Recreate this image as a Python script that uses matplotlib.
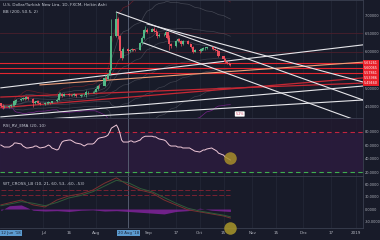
import numpy as np
import pandas as pd
import matplotlib
matplotlib.use("Agg")
import matplotlib.pyplot as plt
import matplotlib.transforms as mtransforms


# ---- data ----
START = pd.Timestamp("2018-06-06")
trade_dates = pd.bdate_range("2018-06-06", "2018-10-19")

first_open = 4.60
closes = [
    4.53, 4.50, 4.51,
    4.53, 4.55, 4.55, 4.65, 4.68,
    4.72, 4.75, 4.73, 4.76, 4.72,
    4.60, 4.64, 4.66, 4.62, 4.57,
    4.60, 4.62, 4.62, 4.61, 4.65,
    4.70, 4.85, 4.86, 4.81, 4.86,
    4.83, 4.82, 4.83, 4.84, 4.79,
    4.82, 4.83, 4.83, 4.90, 4.90,
    4.91, 4.92, 4.99, 5.07, 5.06,
    5.30, 5.27, 5.41, 5.50, 6.43,
    6.88, 6.44, 6.03, 5.84, 6.08,
    6.03, 6.05, 6.07, 6.06, 6.05,
    6.25, 6.38, 6.59, 6.60, 6.55,
    6.62, 6.58, 6.55, 6.42, 6.46,
    6.47, 6.53, 6.37, 6.22, 6.15,
    6.29, 6.36, 6.30, 6.20, 6.30,
    6.22, 6.20, 6.14, 6.00, 6.05,
    6.02, 6.09, 6.10, 6.10, 6.12,
    6.14, 6.08, 6.05, 6.02, 5.88,
    5.80, 5.73, 5.70, 5.66, 5.65,
]
highs = [
    4.62, 4.58, 4.56,
    4.56, 4.57, 4.58, 4.68, 4.72,
    4.74, 4.78, 4.77, 4.79, 4.78,
    4.74, 4.66, 4.69, 4.68, 4.63,
    4.64, 4.64, 4.65, 4.64, 4.67,
    4.75, 4.90, 4.92, 4.88, 4.89,
    4.88, 4.86, 4.86, 4.87, 4.85,
    4.84, 4.86, 4.85, 4.95, 4.93,
    4.94, 4.95, 5.03, 5.10, 5.12,
    5.38, 5.34, 5.43, 5.55, 6.88,
    7.08, 6.96, 6.47, 6.06, 6.12,
    6.10, 6.09, 6.10, 6.09, 6.08,
    6.28, 6.42, 6.62, 6.70, 6.64,
    6.65, 6.68, 6.62, 6.58, 6.50,
    6.51, 6.57, 6.55, 6.45, 6.24,
    6.32, 6.38, 6.38, 6.31, 6.32,
    6.32, 6.25, 6.21, 6.15, 6.09,
    6.07, 6.11, 6.12, 6.14, 6.14,
    6.17, 6.16, 6.10, 6.08, 6.04,
    5.90, 5.82, 5.76, 5.72, 5.70,
]
lows = [
    4.50, 4.44, 4.47,
    4.48, 4.51, 4.52, 4.53, 4.62,
    4.66, 4.70, 4.70, 4.71, 4.70,
    4.51, 4.58, 4.61, 4.59, 4.55,
    4.56, 4.58, 4.59, 4.58, 4.60,
    4.63, 4.68, 4.80, 4.78, 4.80,
    4.80, 4.79, 4.80, 4.81, 4.77,
    4.78, 4.80, 4.80, 4.78, 4.86,
    4.88, 4.89, 4.90, 4.97, 5.01,
    5.06, 5.22, 5.26, 5.38, 5.50,
    6.40, 6.35, 5.98, 5.78, 5.82,
    5.98, 6.00, 6.02, 6.02, 6.01,
    6.04, 6.22, 6.35, 6.53, 6.50,
    6.56, 6.55, 6.50, 6.38, 6.40,
    6.42, 6.45, 6.34, 6.06, 6.10,
    6.13, 6.26, 6.27, 6.16, 6.18,
    6.20, 6.15, 6.10, 5.98, 5.99,
    5.97, 6.00, 6.05, 6.06, 6.08,
    6.09, 6.05, 6.02, 5.98, 5.86,
    5.78, 5.70, 5.66, 5.63, 5.62,
]

rsi_values = [
    60, 58.5, 57,
    57, 58.5, 60, 63, 63,
    61.5, 58.5, 57, 55.6, 55.6,
    57, 58.5, 58.5, 57, 55.6,
    57, 58.5, 60, 58.5, 55.6,
    52.6, 54, 60, 64.4, 66,
    67.4, 67.4, 66, 64.4, 63,
    61.5, 60, 58.5, 60, 61.5,
    61.5, 63, 66, 69, 70.4,
    72, 73, 74.8, 79.3, 85,
    89.6, 85, 77.8, 67.4, 64.4,
    64.4, 66, 66, 64.4, 64.4,
    67.4, 70.4, 72, 73, 73,
    73, 72, 72, 70.4, 69,
    67.4, 66, 63, 60, 58.5,
    58.5, 57, 57, 57, 55.6,
    55.6, 55.6, 54, 52.6, 51,
    49.6, 51, 52.6, 52.6, 54,
    55.6, 54, 52.6, 51, 48,
    45, 42, 40.8, 39.3, 37.8,
]

# WaveTrend pane, one reading per week
wt_dates = ["2018-06-06", "2018-06-11", "2018-06-18", "2018-06-25", "2018-07-02",
            "2018-07-09", "2018-07-16", "2018-07-23", "2018-07-30", "2018-08-06",
            "2018-08-13", "2018-08-20", "2018-08-27", "2018-09-03", "2018-09-10",
            "2018-09-17", "2018-09-24", "2018-10-01", "2018-10-08", "2018-10-15",
            "2018-10-19"]
wt1 = [10, 15, 22, 10, 5, 22, 32, 37, 46, 63, 76, 58, 46, 39, 22, 10, -2, -7, -12, -17, -22]
wt2 = [8, 12, 18, 14, 8, 16, 27, 33, 42, 56, 70, 64, 50, 42, 28, 14, 2, -5, -10, -15, -19]
mfi = [-4, 8, 10, -3, -5, -4, -6, -3, -2, -5, -4, -6, -8, -10, -12, -6, -4, 2, -3, -5, -6]
wt_levels = [46, 34]
wt_cross_value = -46

# drawn trend lines: (start date, start price, end date, end price)
white_lines = [
    ("2018-08-13", 7.08, "2019-01-05", 4.69),
    ("2018-08-31", 6.76, "2019-01-05", 5.18),
    ("2018-08-29", 6.24, "2019-01-05", 4.07),
    ("2018-06-06", 5.02, "2019-01-05", 6.19),
    ("2018-06-06", 4.23, "2019-01-05", 5.07),
    ("2018-06-06", 4.10, "2019-01-05", 4.69),
]
red_sloped = [
    ("2018-06-06", 4.77, "2019-01-05", 5.15),
    ("2018-06-06", 4.48, "2019-01-05", 5.29),
]
orange_line = ("2018-06-29", 5.10, "2019-01-05", 5.72)
red_levels = [5.70, 5.56, 5.43]
faint_levels = [6.51, 6.00]

price_labels = ["5.63261", "5.60065", "5.57861", "5.53986", "5.49460"]
label_prices = [5.70, 5.56, 5.43, 5.29, 5.15]
axis_prices = [4.5, 5.0, 6.0, 6.5, 7.0]

tick_dates = ["2018-07-01", "2018-07-16", "2018-08-01", "2018-09-01", "2018-09-17",
              "2018-10-01", "2018-10-15", "2018-11-01", "2018-11-15", "2018-12-01",
              "2018-12-17", "2019-01-01"]
tick_labels = ["Jul", "16", "Aug", "Sep", "17", "Oct", "15", "Nov", "15", "Dec", "17", "2019"]

cursor_date = "2018-08-20"
cursor_label = "20 Aug '18"
left_date = "2018-06-12"
left_label = "12 Jun '18"

BG = "#181b29"
GRID = "#242938"
TXT = "#b2b5be"
UP = "#53b987"
DOWN = "#eb4d5c"


def day(d):
    return (pd.Timestamp(d) - START).days


days = (trade_dates - START).days.values.astype(float)
closes = np.array(closes)
opens = np.r_[first_open, closes[:-1]]
highs = np.array(highs)
lows = np.array(lows)
wt_days = np.array([day(d) for d in wt_dates], dtype=float)
ticks = [day(d) for d in tick_dates]

XLIM = (-0.5, 213.0)
W, H = 380, 240
PLOT_W = 363

fig = plt.figure(figsize=(W / 100, H / 100), dpi=100, facecolor=BG)
ax_main = fig.add_axes([0, 1 - 118 / H, PLOT_W / W, 118 / H])
ax_rsi = fig.add_axes([0, 1 - 176 / H, PLOT_W / W, 58 / H])
ax_wt = fig.add_axes([0, 12 / H, PLOT_W / W, 52 / H])

for ax in (ax_main, ax_rsi, ax_wt):
    ax.set_facecolor(BG)
    ax.set_xlim(*XLIM)
    ax.yaxis.tick_right()
    ax.tick_params(axis="y", labelsize=2.5, colors=TXT, length=0, pad=1.5)
    ax.tick_params(axis="x", length=0)
    ax.set_xticks(ticks)
    for s in ax.spines.values():
        s.set_visible(False)
    for side in ("top", "right"):
        ax.spines[side].set_visible(True)
        ax.spines[side].set_color("#3a3f50")
        ax.spines[side].set_linewidth(0.6)
    for t in ticks:
        ax.axvline(t, color=GRID, lw=0.5, zorder=0)
    ax.axvline(day(cursor_date), color="#5d6478", lw=0.6, zorder=1)

ax_main.set_xticklabels([])
ax_rsi.set_xticklabels([])

# ---- main pane ----
ax_main.set_ylim(4.20, 7.41)
ax_main.set_yticks(axis_prices)
ax_main.set_yticklabels([f"{v:.5f}" for v in axis_prices])
for v in faint_levels:
    ax_main.axhline(v, color="#4a1f2c", lw=0.6, zorder=0)

# bands from the closes (EMA envelope)
s = pd.Series(closes)
mid = s.ewm(span=50).mean()
sd = s.ewm(span=50).std().fillna(0)
for k, col, a in [(1, "#9598a1", 0.3), (2, "#9598a1", 0.35), (-1, "#9598a1", 0.3),
                  (-2, "#9598a1", 0.3), (3, "#6e1f2a", 0.9), (-3, "#9c27b0", 0.7)]:
    ax_main.plot(days, mid + k * sd, color=col, lw=0.5, alpha=a, zorder=1)
for span in (20, 100):
    ax_main.plot(days, s.ewm(span=span).mean(), color="#9598a1", lw=0.5, alpha=0.3, zorder=1)

for d0, p0, d1, p1 in red_sloped:
    ax_main.plot([day(d0), day(d1)], [p0, p1], color="#c62834", lw=0.9, zorder=2)
for v in red_levels:
    ax_main.axhline(v, color="#e3262f", lw=0.8, zorder=2)
d0, p0, d1, p1 = orange_line
ax_main.plot([day(d0), day(d1)], [p0, p1], color="#f0a07a", lw=0.8, zorder=2)
for d0, p0, d1, p1 in white_lines:
    ax_main.plot([day(d0), day(d1)], [p0, p1], color="#e6e6ea", lw=0.8, zorder=3)

colors = np.where(closes >= opens, UP, DOWN)
ax_main.vlines(days, lows, highs, colors=colors, lw=0.5, zorder=4)
ax_main.bar(days, np.maximum(np.abs(closes - opens), 0.008),
            bottom=np.minimum(opens, closes), width=1.3, color=colors, lw=0, zorder=5)

trans = mtransforms.blended_transform_factory(ax_main.transAxes, ax_main.transData)
for txt, p in zip(price_labels, label_prices):
    ax_main.text(1.003, p, txt, transform=trans, fontsize=2.4, color="white",
                 va="center", ha="left", clip_on=False, zorder=10,
                 bbox=dict(boxstyle="square,pad=0.32", fc="#e8202a", ec="none"))

ax_main.text(140.5, 4.31, "5.2%", fontsize=2.4, color="#d04060", ha="center", va="center",
             bbox=dict(boxstyle="round,pad=0.2", fc="white", ec="none"), zorder=6)

ax_main.text(0.008, 0.955, "U.S. Dollar/Turkish New Lira, 1D, FXCM, Heikin Ashi",
             transform=ax_main.transAxes, fontsize=3, color="#c8ccd6", va="center")
ax_main.text(0.008, 0.895, "BB (200, 50.5, 2)", transform=ax_main.transAxes,
             fontsize=3, color="#c8ccd6", va="center")

# ---- RSI pane ----
rsi_ticks = [20, 40, 60, 80]
ax_rsi.set_ylim(14.1, 100)
ax_rsi.set_yticks(rsi_ticks)
ax_rsi.set_yticklabels([f"{v:.4f}" for v in rsi_ticks])
ax_rsi.axhspan(20, 80, color="#2a1b3d", alpha=0.9, zorder=0)
ax_rsi.axhspan(80, 100, color="#22192f", alpha=0.7, zorder=0)
ax_rsi.axhline(80, color="#c2243f", lw=0.8, ls=(0, (4, 3)), zorder=1)
ax_rsi.axhline(20, color="#3fae4f", lw=0.8, ls=(0, (4, 3)), zorder=1)
ax_rsi.plot(days, rsi_values, color="#f0c8d8", lw=0.7, zorder=3)
ax_rsi.plot(days[-1], rsi_values[-1] + 2.5, "o", ms=9, color="#a88e2a", alpha=0.85,
            mec="none", zorder=4, clip_on=False)
ax_rsi.text(0.008, 0.88, "RSI_RV_EMA (20, 10)", transform=ax_rsi.transAxes,
            fontsize=3, color="#c8ccd6", va="center")

# ---- WaveTrend pane ----
wt_ticks = [-30, 0, 30, 60]
ax_wt.set_ylim(-46.3, 80.5)
ax_wt.set_yticks(wt_ticks)
ax_wt.set_yticklabels([f"{v:.4f}" for v in wt_ticks])
for v in wt_levels:
    ax_wt.plot([days[0], days[-1]], [v, v], color="#7a2232", lw=0.7, ls=(0, (5, 2)), zorder=1)
ax_wt.fill_between(wt_days, 0, mfi, color="#8e24aa", alpha=0.75, lw=0, zorder=2)
ax_wt.plot(wt_days, wt1, color="#7a3030", lw=0.7, zorder=3)
ax_wt.plot(wt_days, wt2, color="#2f5a3a", lw=0.7, zorder=3)
ax_wt.plot(wt_days[-1], wt_cross_value, "o", ms=9, color="#a8962a", alpha=0.85,
           mec="none", zorder=4, clip_on=False)
ax_wt.text(0.008, 0.85, "WT_CROSS_LB (10, 21, 60, 53, -60, -53)", transform=ax_wt.transAxes,
           fontsize=3, color="#c8ccd6", va="center")

ax_wt.spines["bottom"].set_visible(True)
ax_wt.spines["bottom"].set_color("#3a3f50")
ax_wt.spines["bottom"].set_linewidth(0.6)
ax_wt.set_xticklabels(tick_labels)
ax_wt.tick_params(axis="x", labelsize=3, colors=TXT, pad=2)

bottom_trans = mtransforms.blended_transform_factory(ax_wt.transData, ax_wt.transAxes)
for d, txt in [(day(cursor_date), cursor_label), (day(left_date), left_label)]:
    ax_wt.text(d, -0.09, txt, transform=bottom_trans,
               fontsize=2.8, color="#1d2233", ha="center", va="center", clip_on=False, zorder=10,
               bbox=dict(boxstyle="square,pad=0.3", fc="#5b9bd0", ec="none"))

fig.savefig("out.png", dpi=100, facecolor=BG)
